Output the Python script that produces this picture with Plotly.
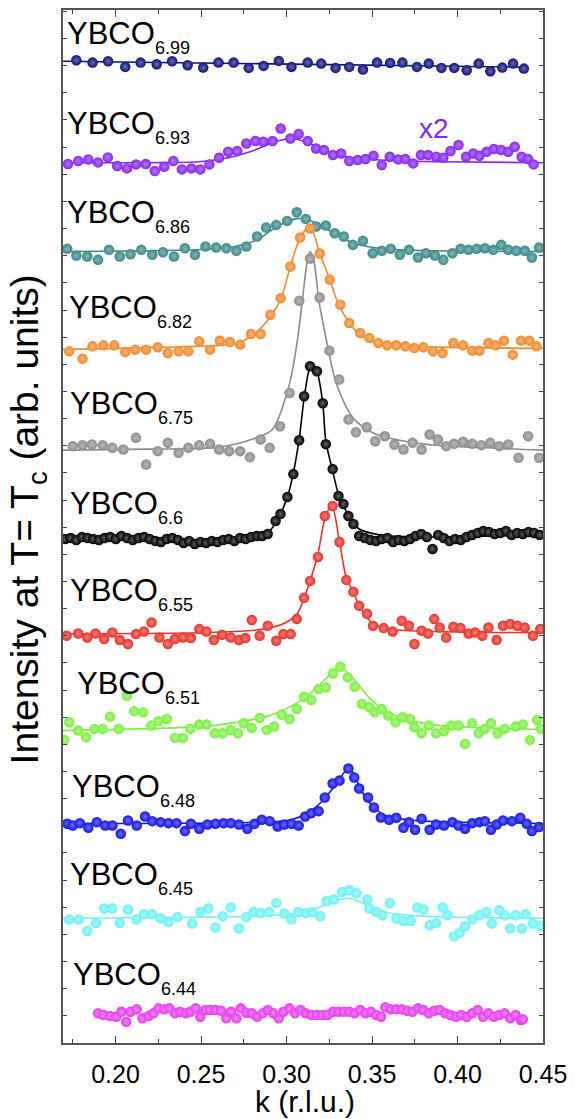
import plotly.graph_objects as go

# ---------------------------------------------------------------- axes
K_RANGE = [0.1693, 0.45]
Y_TOP = 1035          # arbitrary intensity units (stacked)

# ---------------------------------------------------------------- samples (top to bottom)
doping = ["6.99", "6.93", "6.86", "6.82", "6.75", "6.6", "6.55", "6.51", "6.48", "6.45", "6.44"]
colors = ["#0f0f7a", "#8526f5", "#3a8888", "#f08a2c", "#8c8c8c", "#000000",
          "#e8322a", "#7cf040", "#1414ea", "#70f2f2", "#e83cf0"]
offsets = [981, 882, 793, 695, 594, 503, 410, 313, 220, 125, 28]

# YBCO6.99
k_699 = [0.1771, 0.1866, 0.1957, 0.2057, 0.2147, 0.2241, 0.2331, 0.2422, 0.2513, 0.2602, 0.2691,
         0.2779, 0.2866, 0.2955, 0.3029, 0.3124, 0.3203, 0.3287, 0.3367, 0.3447, 0.3530, 0.3606,
         0.3678, 0.3763, 0.3832, 0.3906, 0.3981, 0.4054, 0.4124, 0.4192, 0.4262, 0.4325, 0.4388]
i_699 = [3.7, 1.3, 2.7, -3, 1.3, -0.3, 2.7, -1.3, -3.7, 1.3, 1.3, -4, -2, 3, -3, 1.3, 0.3, -4, -3,
         -5.7, 1.3, 1, 1.3, -3, 0.3, -4, -4, -6.3, 0.3, -7.3, -3.7, 0.3, -4.7]
fk_699 = [0.1693, 0.4400]
fi_699 = [2.7, -3.3]

# YBCO6.93 (shown x2)
k_693 = [0.1722, 0.1782, 0.1841, 0.1898, 0.1955, 0.2010, 0.2067, 0.2120, 0.2177, 0.2230,
         0.2285, 0.2338, 0.2388, 0.2444, 0.2496, 0.2549, 0.2606, 0.2659, 0.2712, 0.2765,
         0.2818, 0.2864, 0.2919, 0.2966, 0.3023, 0.3071, 0.3124, 0.3173, 0.3219, 0.3272,
         0.3319, 0.3367, 0.3416, 0.3462, 0.3509, 0.3557, 0.3604, 0.3653, 0.3695, 0.3741,
         0.3786, 0.3828, 0.3875, 0.3917, 0.3959, 0.4006, 0.4050, 0.4092, 0.4128, 0.4170,
         0.4213, 0.4255, 0.4297, 0.4335, 0.4375, 0.4413, 0.4445]
i_693 = [-1.3, 1.7, 3.3, 0.3, 5.3, -3.3, -5.7, -1.7, -1.3, -8.3,
         -4, 1.7, -6.7, -5.7, -6.7, -1.7, 5, 11, 11.7, 19.3,
         21.7, 21, 21.7, 34.3, 24.3, 28.7, 21.7, 14.3, 12.7, 7.7,
         9.3, 1.7, 2.7, 3.7, 7, -2.3, 6, 3.3, 3.7, -0.7,
         7.7, 7.7, 6, 5, 11.7, 17.7, 6, 9.3, 7, 11,
         13.7, 12.7, 11, 16, 6, 3.7, -1.7]
fk_693 = [0.1693, 0.22, 0.2488, 0.266, 0.2804, 0.289, 0.2977, 0.3034, 0.3092, 0.3178, 0.3264,
          0.3379, 0.3638, 0.3925, 0.45]
fi_693 = [0, 0, 1, 5, 12, 18, 23, 24, 22, 16, 10, 5, 2, 1, 0]

# YBCO6.86
k_686 = [0.1718, 0.1771, 0.1835, 0.1898, 0.1962, 0.2025, 0.2088, 0.2151, 0.2215, 0.2278,
         0.2342, 0.2406, 0.2465, 0.2526, 0.2589, 0.2648, 0.2707, 0.2765, 0.2828, 0.2881,
         0.2940, 0.3004, 0.3060, 0.3113, 0.3173, 0.3230, 0.3282, 0.3335, 0.3388, 0.3447,
         0.3504, 0.3557, 0.3610, 0.3663, 0.3716, 0.3769, 0.3815, 0.3868, 0.3917, 0.3970,
         0.4018, 0.4065, 0.4112, 0.4160, 0.4209, 0.4256, 0.4297, 0.4344, 0.4393, 0.4435, 0.4477]
i_686 = [2.7, -4, -5, -8.3, 1.7, -5, -2.7, 1.7, -3.3, -0.7,
         -5, 3.3, -3.3, 5, 4, 3.3, 0.7, 5, 15, 24,
         26.7, 30.7, 39.3, 32.7, 25, 26, 18.3, 15, 6.7, 10.7,
         -1.7, 0.7, 2.7, -3.3, 1.7, -6, -1.7, -4, -8.3, -1.7,
         2.7, 1.7, 2.7, 3.3, 1.7, 6.7, 1.7, 0.7, 0.7, -6, 4]
fk_686 = [0.1693, 0.25, 0.27, 0.283, 0.29, 0.298, 0.306, 0.312, 0.32, 0.33, 0.34, 0.355, 0.38, 0.45]
fi_686 = [0, 2, 5, 12, 20, 28, 33, 32, 26, 16, 8, 3, 1, 0]

# YBCO6.82
k_682 = [0.1729, 0.1807, 0.1866, 0.1929, 0.1993, 0.2057, 0.2116, 0.2179, 0.2247, 0.2306,
         0.2369, 0.2426, 0.2490, 0.2553, 0.2610, 0.2669, 0.2729, 0.2792, 0.2849, 0.2906,
         0.2966, 0.3023, 0.3080, 0.3138, 0.3195, 0.3253, 0.3315, 0.3367, 0.3431, 0.3484,
         0.3537, 0.3589, 0.3642, 0.3695, 0.3748, 0.3800, 0.3857, 0.3913, 0.3976, 0.4033,
         0.4086, 0.4128, 0.4181, 0.4223, 0.4272, 0.4323, 0.4371, 0.4420, 0.4462]
i_682 = [-2, -9.3, 3, 4, 4, -2.7, -0.3, -0.3, 2, -3.7,
         -2, -2, 8, -0.3, 8.7, 7.3, 4.7, 15.3, 15.3, 34.7,
         51.3, 83, 112, 121, 96, 70, 44.7, 26.3, 16.3, 11.3,
         6.3, 4, 4, 3, 1.3, 2, -2, -3.7, 6.3, 4,
         -1.3, -1.3, 6.3, 4, 8.7, -5.3, 8.7, 8.7, 3]
fk_682 = [0.1693, 0.22, 0.2712, 0.2816, 0.2907, 0.2966, 0.3023, 0.3080, 0.3138, 0.3195,
          0.3253, 0.3304, 0.3362, 0.3419, 0.3523, 0.3753, 0.45]
fi_682 = [0, 2, 6, 16, 33, 50, 83, 112, 123, 96, 70, 45, 28, 16, 7, 3, 1]

# YBCO6.75
k_675 = [0.1750, 0.1807, 0.1862, 0.1925, 0.1982, 0.2046, 0.2120, 0.2179, 0.2247, 0.2306,
         0.2369, 0.2426, 0.2490, 0.2553, 0.2606, 0.2665, 0.2729, 0.2786, 0.2849, 0.2902,
         0.2962, 0.3018, 0.3075, 0.3138, 0.3194, 0.3251, 0.3308, 0.3363, 0.3406, 0.3469,
         0.3519, 0.3575, 0.3631, 0.3684, 0.3737, 0.3790, 0.3837, 0.3885, 0.3934, 0.3980,
         0.4033, 0.4086, 0.4139, 0.4191, 0.4244, 0.4297, 0.4357, 0.4413, 0.4477]
i_675 = [4, 5, 5.7, 5, 2.3, 0.7, 12.3, -14.3, -1, 7.3,
         -2.7, 2.3, 5, 6.3, 0.7, -1, -1, -7, 10.7, 2.3,
         24, 57.3, 149.7, 192, 153, 99.7, 70.7, 30.7, 18, 23,
         9, 14, 5.7, 0.7, 7.3, 0.7, 15.7, 10.7, 4, 6.3,
         8.3, 6.3, 5, 7.3, 4, 5.7, -7.7, 14, -7.7]
fk_675 = [0.1693, 0.22, 0.2603, 0.2816, 0.2919, 0.3017, 0.3063, 0.3092, 0.3121, 0.3138,
          0.3161, 0.3190, 0.3235, 0.3293, 0.3391, 0.3523, 0.3810, 0.4213, 0.45]
fi_675 = [0, 1, 3, 12, 21, 66, 109, 149, 189, 199, 189, 149, 109, 66, 32, 16, 6, 2, 0]

# YBCO6.6
k_66 = [0.1705, 0.1738, 0.1771, 0.1804, 0.1837, 0.1870, 0.1903, 0.1936, 0.1969, 0.2002,
        0.2035, 0.2068, 0.2101, 0.2134, 0.2167, 0.2200, 0.2233, 0.2266, 0.2299, 0.2332,
        0.2365, 0.2398, 0.2431, 0.2464, 0.2497, 0.2530, 0.2563, 0.2596, 0.2629, 0.2662,
        0.2695, 0.2728, 0.2761, 0.2794, 0.2827, 0.2858,
        0.2890, 0.2936, 0.2965, 0.3005, 0.3040, 0.3074, 0.3103, 0.3138, 0.3178, 0.3212,
        0.3230, 0.3270, 0.3304, 0.3333, 0.3362, 0.3391, 0.3425,
        0.3458, 0.3491, 0.3524, 0.3557, 0.3590, 0.3623, 0.3656, 0.3689, 0.3722, 0.3755,
        0.3788, 0.3821, 0.3854, 0.3887, 0.3920, 0.3953, 0.3986, 0.4019, 0.4052, 0.4085,
        0.4118, 0.4151, 0.4184, 0.4217, 0.4250, 0.4283, 0.4316, 0.4349, 0.4382, 0.4415,
        0.4448, 0.4481]
i_66 = [2, 3, 1, 4, 3, 2, 1, 3, 4, 2,
        5, 3, 1, 3, 4, 2, 0, -1, 2, 3,
        1, -2, 0, -3, -1, -2, 0, -1, 1, 2,
        0, 3, 2, 4, 5, 5,
        7, 20, 27, 44, 67, 101, 145, 175, 170, 138,
        97, 72, 45, 37, 25, 17, 5,
        3, 1, 0, 2, 3, -1, 1, 0, 2, 5,
        7, 4, -8, 6, 3, 0, 2, 1, 4, 6,
        8, 10, 9, 7, 8, 10, 6, 8, 7, 9,
        8, 6]
fk_66 = [0.1693, 0.25, 0.27, 0.28, 0.2890, 0.2936, 0.2965, 0.3005, 0.3040, 0.3074, 0.3103,
         0.3130, 0.3150, 0.3178, 0.3212, 0.3230, 0.3270, 0.3304, 0.3362, 0.3425, 0.355, 0.38, 0.45]
fi_66 = [2, 1, 2, 4, 8, 18, 27, 44, 68, 102, 143, 170, 178, 170, 138, 100, 70, 47, 26, 12, 6, 4, 6]

# YBCO6.55
k_655 = [0.1714, 0.1782, 0.1835, 0.1883, 0.1934, 0.1982, 0.2025, 0.2073, 0.2120, 0.2166,
         0.2211, 0.2257, 0.2306, 0.2348, 0.2395, 0.2441, 0.2490, 0.2532, 0.2575, 0.2623,
         0.2674, 0.2722, 0.2759, 0.2797, 0.2843, 0.2891, 0.2940, 0.2982, 0.3025, 0.3060,
         0.3103, 0.3138, 0.3184, 0.3224, 0.3270, 0.3310, 0.3350, 0.3391, 0.3425, 0.3471,
         0.3506, 0.3568, 0.3621, 0.3674, 0.3716, 0.3748, 0.3790, 0.3828, 0.3864, 0.3896,
         0.3934, 0.3976, 0.4018, 0.4065, 0.4103, 0.4145, 0.4181, 0.4229, 0.4266, 0.4308,
         0.4350, 0.4393, 0.4441, 0.4484]
i_655 = [-2, 0.3, -3.7, 0.3, -5.3, 1.3, -6.3, -10.3, -0.3, 2.3,
         11.3, -3.7, -10.3, -5.3, -3.7, -4.3, 4.7, 2.3, -6.3, -1,
         -3.7, -6.3, -4.3, 13.7, -2, 8, -7, -0.3, -0.3, 14.7,
         36, 53, 77, 118, 128, 92, 54, 42, 28, 20,
         8, 5.7, 2.3, 13, 8, -10.3, 3, 0.3, 14.7, 6.3,
         -3.7, 7, 5.7, 0.3, 1.3, -2, 6.3, -6.3, 8, 9.7,
         8, 6.3, -2, 4.7]
fk_655 = [0.1693, 0.2488, 0.2775, 0.2907, 0.3005, 0.3063, 0.3103, 0.3138, 0.3184, 0.3224,
          0.3265, 0.3310, 0.3350, 0.3391, 0.3425, 0.3506, 0.3638, 0.3925, 0.45]
fi_655 = [0, 1, 3, 6, 12, 20, 36, 53, 80, 115, 129, 92, 56, 42, 28, 10, 4, 2, 1]

# YBCO6.51
k_651 = [0.1701, 0.1729, 0.1782, 0.1828, 0.1877, 0.1925, 0.1968, 0.2019, 0.2067, 0.2109,
         0.2162, 0.2209, 0.2251, 0.2300, 0.2348, 0.2395, 0.2437, 0.2490, 0.2532, 0.2581,
         0.2627, 0.2674, 0.2716, 0.2750, 0.2797, 0.2843, 0.2885, 0.2928, 0.2972, 0.3018,
         0.3060, 0.3103, 0.3145, 0.3188, 0.3230, 0.3272, 0.3315, 0.3357, 0.3399, 0.3441,
         0.3484, 0.3515, 0.3557, 0.3595, 0.3638, 0.3680, 0.3722, 0.3748, 0.3790, 0.3832,
         0.3875, 0.3921, 0.3963, 0.4006, 0.4044, 0.4086, 0.4124, 0.4160, 0.4196, 0.4234,
         0.4276, 0.4340, 0.4382, 0.4424, 0.4466, 0.4488]
i_651 = [-9.3, 8.3, 0, -6.7, 1.7, 1.7, 14, 1.7, 35, 19.3,
         18.3, 5, 9.3, 11.7, -7.3, -7.3, 1.7, 6, 6, -2.7,
         -2.7, 0.7, -2.7, 7.3, 2.7, 12.7, 0.7, 4, 16, 11.7,
         21.7, 34, 30.7, 41.7, 43.3, 57.3, 64, 53.3, 44, 26.7,
         23.3, 18.3, 21.7, 15, 8.3, 13.3, 11.7, 3.3, -2.7, 5,
         -2.7, -0.7, 5, 5, -13.3, 7.3, -2.7, 1.7, 7.3, -2.7,
         1.7, 4, 6, -9.3, 10.7, 1.7]
fk_651 = [0.1693, 0.22, 0.25, 0.27, 0.29, 0.300, 0.310, 0.318, 0.325, 0.3315, 0.337, 0.343,
          0.350, 0.358, 0.367, 0.385, 0.415, 0.45]
fi_651 = [0, 2, 4, 8, 15, 22, 32, 44, 55, 63, 56, 44, 30, 20, 13, 6, 3, 1]

# YBCO6.48
k_648 = [0.1718, 0.1750, 0.1792, 0.1841, 0.1891, 0.1940, 0.1982, 0.2031, 0.2073, 0.2124,
         0.2173, 0.2215, 0.2264, 0.2310, 0.2357, 0.2406, 0.2441, 0.2490, 0.2538, 0.2585,
         0.2632, 0.2674, 0.2722, 0.2771, 0.2813, 0.2856, 0.2902, 0.2948, 0.2987, 0.3029,
         0.3071, 0.3109, 0.3145, 0.3188, 0.3224, 0.3270, 0.3310, 0.3362, 0.3396, 0.3425,
         0.3477, 0.3511, 0.3552, 0.3600, 0.3642, 0.3684, 0.3716, 0.3752, 0.3790, 0.3837,
         0.3875, 0.3921, 0.3970, 0.4006, 0.4044, 0.4086, 0.4128, 0.4160, 0.4196, 0.4229,
         0.4266, 0.4318, 0.4367, 0.4405, 0.4435, 0.4477]
i_648 = [-0.3, -2, 0.3, -4.3, 1.3, -2, -2, -10.3, 3, -2,
         7, 2.3, 1.3, 0.3, 0.3, -7.7, -0.3, -5.3, -1, -0.3,
         0.3, 0.3, -1, -5.3, -0.3, 3.7, 2.3, -3, -1, -0.3,
         -2, 7, 10.3, 12.3, 26, 40, 43, 55, 46, 35,
         26, 16, 6, 3.7, 5.7, -4.3, 1.3, -6.3, 4.7, -6.3,
         -1, -2, 1.3, -2, -5.3, 0.3, 1.3, 2.3, -6.3, -1,
         3, 2.3, 5.7, -0.3, -7.7, -3.7]
fk_648 = [0.1693, 0.2775, 0.3005, 0.312, 0.3207, 0.3293, 0.3355, 0.3385, 0.3437, 0.3511,
          0.3592, 0.3753, 0.4098, 0.45]
fi_648 = [0, 1, 3, 10, 22, 40, 54, 52, 33, 16, 7, 3, 1, 0]

# YBCO6.45
k_645 = [0.1729, 0.1786, 0.1835, 0.1887, 0.1934, 0.1982, 0.2025, 0.2073, 0.2124, 0.2166,
         0.2215, 0.2264, 0.2310, 0.2363, 0.2448, 0.2496, 0.2543, 0.2585, 0.2627, 0.2674,
         0.2722, 0.2765, 0.2807, 0.2849, 0.2898, 0.2940, 0.2987, 0.3029, 0.3071, 0.3113,
         0.3151, 0.3198, 0.3236, 0.3278, 0.3325, 0.3367, 0.3409, 0.3473, 0.3484, 0.3526,
         0.3562, 0.3604, 0.3642, 0.3684, 0.3726, 0.3765, 0.3800, 0.3837, 0.3875, 0.3913,
         0.3942, 0.3980, 0.4012, 0.4044, 0.4086, 0.4128, 0.4170, 0.4202, 0.4244, 0.4276,
         0.4308, 0.4340, 0.4378, 0.4399, 0.4441, 0.4484]
i_645 = [-1.3, -1.3, -12.7, -4.7, 9.7, 9.7, -4.7, 8.7, -1.3, 4,
         4, -0.3, -3.7, 1.3, -5.3, 6.3, 9.7, -9.3, 2, 10.7,
         -10.3, 1.3, 6.3, 5.3, 6.3, 15.3, 4.7, -1.3, 6.3, 5.3,
         6.3, 2, 17.3, 18.7, 26.3, 28, 25.3, 18.7, 9.7, 6.3,
         3, 15.3, -0.3, -2.7, -2.7, 10.7, 8.7, -7, -4.7, 10.7,
         3, -18, -14.7, -8, -1.3, 3, 6.3, -5.3, 8, 3,
         -10.3, 3, -10.3, 4, -5.3, -8]
fk_645 = [0.1693, 0.2488, 0.2833, 0.3005, 0.312, 0.3207, 0.3293, 0.335, 0.3408, 0.3494,
          0.3609, 0.381, 0.45]
fi_645 = [0, 1, 2, 4, 7, 12, 18, 20, 18, 11, 5, 2, 0]

# YBCO6.44
k_644 = [0.1898, 0.1929, 0.1968, 0.2004, 0.2035, 0.2063, 0.2088, 0.2124, 0.2158, 0.2194,
         0.2222, 0.2251, 0.2285, 0.2315, 0.2348, 0.2378, 0.2412, 0.2437, 0.2469, 0.2496,
         0.2526, 0.2553, 0.2585, 0.2617, 0.2648, 0.2676, 0.2707, 0.2733, 0.2765, 0.2797,
         0.2828, 0.2860, 0.2891, 0.2923, 0.2955, 0.2982, 0.3018, 0.3050, 0.3082, 0.3113,
         0.3145, 0.3177, 0.3209, 0.3240, 0.3272, 0.3304, 0.3335, 0.3367, 0.3399, 0.3431,
         0.3462, 0.3494, 0.3526, 0.3553, 0.3578, 0.3610, 0.3642, 0.3674, 0.3706, 0.3737,
         0.3769, 0.3800, 0.3832, 0.3864, 0.3896, 0.3928, 0.3959, 0.3991, 0.4022, 0.4054,
         0.4086, 0.4118, 0.4150, 0.4181, 0.4213, 0.4244, 0.4276, 0.4308, 0.4340, 0.4371, 0.4382]
i_644 = [1.7, 0, -1, -1.7, 3.3, -6.7, 3.3, 5.7, -3.3, -1,
         1.7, 6.7, 5.7, 6.7, 1.7, 3.3, 1.7, 3.3, 6.7, -1.7,
         5, 5, 5, 4.3, -3.3, 3.3, -3.3, 6.7, 2.3, 1.7,
         -1.7, 1.7, 5, 1.7, -3.3, 3.3, 6.7, 1.7, 5, 1.7,
         0, 0, 0, 0, 3.3, 3.3, 3.3, 3.3, 1.7, 5,
         1.7, 3.3, 0, -1.7, 7.7, 5.7, 5.7, 5.7, 4.3, 3.3,
         6.7, 5, 1.7, 4.3, 5, 1.7, 0, -1.7, 0, -1.7,
         1.7, 5, -1.7, 1.7, -1.7, 0, 1.7, -3.3, 0, -5, -4.3]
fk_644 = []
fi_644 = []

series = [
    (k_699, i_699, fk_699, fi_699),
    (k_693, i_693, fk_693, fi_693),
    (k_686, i_686, fk_686, fi_686),
    (k_682, i_682, fk_682, fi_682),
    (k_675, i_675, fk_675, fi_675),
    (k_66, i_66, fk_66, fi_66),
    (k_655, i_655, fk_655, fi_655),
    (k_651, i_651, fk_651, fi_651),
    (k_648, i_648, fk_648, fi_648),
    (k_645, i_645, fk_645, fi_645),
    (k_644, i_644, fk_644, fi_644),
]

x_ticks = [0.20, 0.25, 0.30, 0.35, 0.40, 0.45]
x_tick_text = ["0.20", "0.25", "0.30", "0.35", "0.40", "0.45"]

# ---------------------------------------------------------------- layout geometry (pixels)
W, H = 575, 1119
M_L, M_R, M_T, M_B = 63, 27, 8, 76
PW, PH = W - M_L - M_R, H - M_T - M_B

# left edge and "YBCO" baseline of each sample label
label_pos = [(65, 42), (65, 132), (65, 222), (67, 317), (68, 413), (68, 513),
             (68, 600), (75, 694), (70, 797), (68, 885), (71, 985)]
MAIN_SIZE, SUB_SIZE = 31, 18


def px_to_paper(px, py):
    return (px - M_L) / PW, (H - M_B - py) / PH


def tint(hex_color, f):
    r, g, b = (int(hex_color[i:i + 2], 16) for i in (1, 3, 5))
    r, g, b = (round(c + (255 - c) * f) for c in (r, g, b))
    return f"rgb({r},{g},{b})"


fig = go.Figure()

for (k, inten, fk, fi), off, col in zip(series, offsets, colors):
    if fk:
        fig.add_trace(go.Scatter(
            x=fk, y=[v + off for v in fi], mode="lines",
            line=dict(color=col, width=1.6, shape="spline", smoothing=0.8),
            hoverinfo="skip", showlegend=False))
    fig.add_trace(go.Scatter(
        x=k, y=[v + off for v in inten], mode="markers",
        marker=dict(size=10.5, color=col,
                    gradient=dict(type="radial", color=tint(col, 0.38)),
                    line=dict(width=0)),
        showlegend=False))

annotations = []
font_main = "Liberation Sans, Arial, sans-serif"
for name, (lx, base) in zip(doping, label_pos):
    xp, yp = px_to_paper(lx, base - 0.3465 * MAIN_SIZE)
    annotations.append(dict(text="YBCO", x=xp, y=yp, xref="paper", yref="paper",
                            xanchor="left", yanchor="middle", showarrow=False,
                            font=dict(size=MAIN_SIZE, color="black", family=font_main)))
    sub_base = base + 10
    xp, yp = px_to_paper(lx + 2.84 * MAIN_SIZE + 1, sub_base - 0.3465 * SUB_SIZE)
    annotations.append(dict(text=name, x=xp, y=yp, xref="paper", yref="paper",
                            xanchor="left", yanchor="middle", showarrow=False,
                            font=dict(size=SUB_SIZE, color="black", family=font_main)))

xp, yp = px_to_paper(438, 127)
annotations.append(dict(text="x2", x=xp, y=yp, xref="paper", yref="paper",
                        xanchor="center", yanchor="middle", showarrow=False,
                        font=dict(size=28, color=colors[1], family=font_main)))

xp, yp = px_to_paper(27, 518)
annotations.append(dict(text="Intensity at T= T<sub>c</sub> (arb. units)", x=xp, y=yp,
                        xref="paper", yref="paper", xanchor="center", yanchor="middle",
                        textangle=-90, showarrow=False,
                        font=dict(size=39, color="black", family=font_main)))

xp, yp = px_to_paper(308, 1102)
annotations.append(dict(text="k (r.l.u.)", x=xp, y=yp, xref="paper", yref="paper",
                        xanchor="center", yanchor="middle", showarrow=False,
                        font=dict(size=30, color="black", family=font_main)))

fig.update_layout(
    width=W, height=H,
    margin=dict(l=M_L, r=M_R, t=M_T, b=M_B),
    paper_bgcolor="white", plot_bgcolor="white",
    annotations=annotations,
    font=dict(family=font_main, color="black"),
    xaxis=dict(range=K_RANGE, tickmode="array", tickvals=x_ticks, ticktext=x_tick_text,
               ticks="inside", ticklen=7, tickwidth=1.3, tickcolor="#444",
               minor=dict(dtick=0.025, tick0=0.175, ticks="inside", ticklen=4,
                          tickwidth=1.2, tickcolor="#444", showgrid=False),
               showline=True, linecolor="#555", linewidth=1.6, mirror="ticks",
               showgrid=False, zeroline=False,
               tickfont=dict(size=25, color="black"), ticklabelstandoff=8),
    yaxis=dict(range=[0, Y_TOP], tickmode="linear", tick0=0, dtick=27.2,
               ticks="inside", ticklen=4, tickwidth=1.2, tickcolor="#444",
               showticklabels=False, showline=True, linecolor="#555", linewidth=1.6,
               mirror="ticks", showgrid=False, zeroline=False),
)

fig.write_html("out.html")
